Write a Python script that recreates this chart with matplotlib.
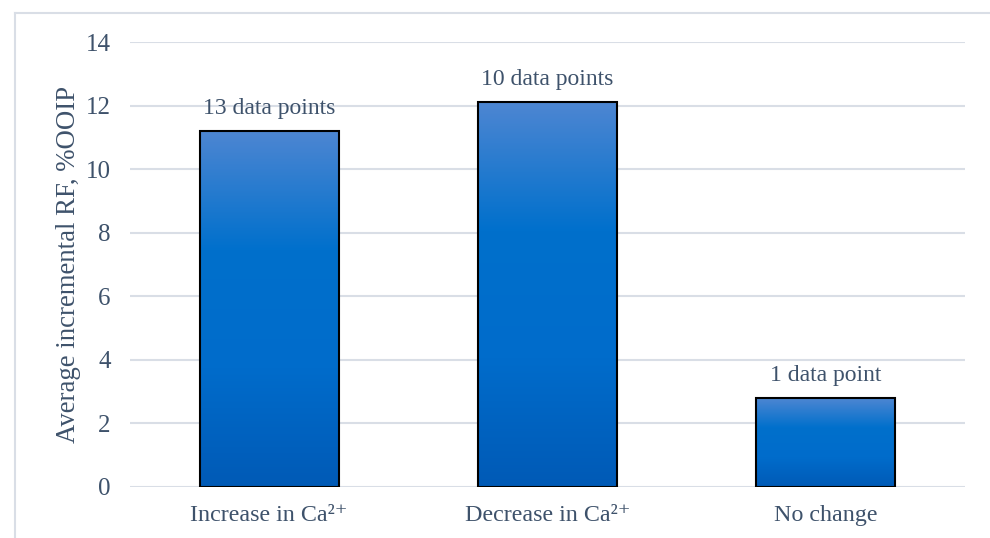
import matplotlib
matplotlib.use("Agg")
import matplotlib.pyplot as plt
import numpy as np
from matplotlib.colors import LinearSegmentedColormap
from matplotlib.lines import Line2D

categories = ["Increase in Ca\u00b2\u207a", "Decrease in Ca\u00b2\u207a", "No change"]
values = [11.2, 12.1, 2.8]
annotations = ["13 data points", "10 data points", "1 data point"]
yticks = [0, 2, 4, 6, 8, 10, 12, 14]

text_color = "#3e526b"
plt.rcParams['font.family'] = ['Liberation Serif', 'DejaVu Serif']

fig = plt.figure(figsize=(9.9, 5.38), dpi=100)
ax = fig.add_axes([0.1313, 0.0948, 0.8434, 0.8271])

# outer border (top and left edges visible)
bx, by = 14.5/990, 1 - 12.5/538
fig.lines.append(Line2D([bx, 1.0], [by, by], transform=fig.transFigure,
                        color="#d9dee6", linewidth=1.5))
fig.lines.append(Line2D([bx, bx], [0.0, by], transform=fig.transFigure,
                        color="#d9dee6", linewidth=1.5))

cmap = LinearSegmentedColormap.from_list("g", ["#005ab6", "#006ccb", "#0070cc", "#4d86d2"])
grad = np.linspace(0, 1, 256).reshape(-1, 1)
width = 0.5
x = np.arange(len(categories))
ax.bar(x, values, width=width, facecolor="none", edgecolor="black",
       linewidth=1.5, zorder=3)
for xi, v in zip(x, values):
    ax.imshow(grad, extent=(xi - width/2, xi + width/2, 0, v), origin="lower",
              cmap=cmap, aspect="auto", zorder=2, interpolation="bilinear")

for xi, v, t in zip(x, values, annotations):
    ax.annotate(t, (xi, v), xytext=(0, 9), textcoords="offset points",
                ha="center", va="bottom", fontsize=17, color=text_color)

ax.set_xlim(-0.5, len(categories) - 0.5)
ax.set_ylim(0, 14)
ax.set_yticks(yticks)
ax.set_xticks(x)
ax.set_xticklabels(categories)
ax.tick_params(axis="both", length=0, labelcolor=text_color)
ax.tick_params(axis="y", pad=14, labelsize=18)
ax.tick_params(axis="x", pad=13, labelsize=17.3)
ax.grid(axis="y", color="#d9dee6", linewidth=1.5, zorder=0)
ax.set_axisbelow(True)
for s in ax.spines.values():
    s.set_visible(False)
ax.set_ylabel("Average incremental RF, %OOIP", fontsize=19.3, color=text_color, labelpad=3)

fig.savefig("out.png", dpi=100)
